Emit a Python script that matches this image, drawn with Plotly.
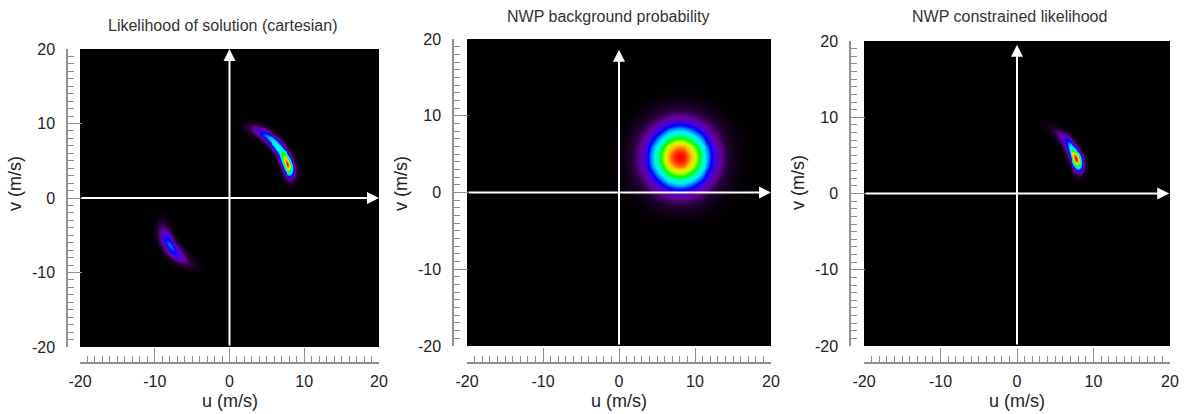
import numpy as np
import plotly.graph_objects as go

W, H = 1192, 414

# ---- chart values -------------------------------------------------------
panel_titles = ["Likelihood of solution (cartesian)",
                "NWP background probability",
                "NWP constrained likelihood"]
tick_values = [-20, -10, 0, 10, 20]
tick_labels = ["-20", "-10", "0", "10", "20"]
axis_range = [-20, 20]

# ambiguous wind solutions, built from arc-shaped components in the (u, v) plane
# [centre u, centre v, arc radius, radial sigma, peak angle (deg),
#  angular sigma clockwise, angular sigma anticlockwise,
#  anticlockwise shape exponent, level]
solution_main_body = [0.5, 2.2, 7.6, 0.5, 19.0, 10.0, 40.0, 4.0, 0.55]
solution_main_peak = [0.5, 2.2, 7.6, 0.45, 18.0, 7.0, 7.0, 2.0, 0.45]
solution_alias = [-2.2, -2.7, 6.85, 0.6, -148.0, 15.0, 18.0, 2.0, 0.38]

# NWP background: centre u, centre v, sigma (m/s)
nwp_centre_u = 8.0
nwp_centre_v = 4.6
nwp_sigma = 2.8

# ---- fields on the (u, v) grid -----------------------------------------
u = np.linspace(-20, 20, 321)
v = np.linspace(-20, 20, 321)
U, V = np.meshgrid(u, v)


def arc_likelihood(p):
    cu, cv, rad, sr, peak, s_lo, s_hi, p_hi, amp = p
    r = np.hypot(U - cu, V - cv)
    ang = np.degrees(np.arctan2(V - cv, U - cu))
    d = (ang - peak + 180.0) % 360.0 - 180.0
    along = np.where(d >= 0,
                     np.exp(-0.5 * (np.abs(d) / s_hi) ** p_hi),
                     np.exp(-0.5 * (d / s_lo) ** 2))
    return amp * np.exp(-0.5 * ((r - rad) / sr) ** 2) * along


z_solution = sum(arc_likelihood(p) for p in
                 (solution_main_body, solution_main_peak, solution_alias))
z_solution /= z_solution.max()

z_nwp = np.exp(-((U - nwp_centre_u) ** 2 + (V - nwp_centre_v) ** 2) / (2 * nwp_sigma ** 2))

z_constrained = z_solution * z_nwp
z_constrained /= z_constrained.max()

fields = [np.round(z_solution, 4), np.round(z_nwp, 4), np.round(z_constrained, 4)]

rainbow_black = [
    [0.00, "rgb(0,0,0)"],
    [0.08, "rgb(40,0,60)"],
    [0.16, "rgb(100,0,150)"],
    [0.26, "rgb(70,0,230)"],
    [0.33, "rgb(0,0,255)"],
    [0.41, "rgb(0,150,255)"],
    [0.49, "rgb(0,240,255)"],
    [0.58, "rgb(0,255,170)"],
    [0.66, "rgb(0,255,0)"],
    [0.77, "rgb(200,255,0)"],
    [0.86, "rgb(255,200,0)"],
    [0.93, "rgb(255,100,0)"],
    [1.00, "rgb(255,0,0)"],
]

# ---- layout geometry (pixels) -----------------------------------------
# plot area: left, right, top, bottom
boxes = [(80, 379, 49, 347), (467, 771, 39, 346), (864, 1170, 41, 346)]
yaxis_line_px = [67, 453, 850]
xaxis_line_px = 363
title_pos = [(222, 25), (608, 17), (1009, 17)]
vlabel_px = [15, 401, 798]
# arrow tips (data units): vertical arrow head, horizontal arrow head
arrow_tips = [(20.0, 20.0), (18.6, 20.0), (19.5, 19.9)]


def fx(px):
    return px / W


def fy(py):
    return 1 - py / H


font_family = "Liberation Sans, Arial, sans-serif"
axis_grey = "#8f8f8f"
text_col = "#222222"

fig = go.Figure()
annotations = []
layout_axes = {}

minor_vals = [t for t in range(-19, 20) if t % 10 != 0]

for i in range(3):
    n = "" if i == 0 else str(i + 1)
    xa, ya = "x" + n, "y" + n
    l, r, t, b = boxes[i]
    fig.add_trace(go.Heatmap(
        x=u, y=v, z=fields[i], xaxis=xa, yaxis=ya,
        colorscale=rainbow_black, zmin=0, zmax=1, zsmooth="best",
        showscale=False, hoverinfo="skip"))

    common = dict(
        range=axis_range, tickmode="array", tickvals=tick_values, ticktext=tick_labels,
        ticks="inside", ticklen=14, tickwidth=1.3, tickcolor=axis_grey,
        showline=True, linecolor=axis_grey, linewidth=1.5,
        showgrid=False, zeroline=False, anchor="free", automargin=False,
        tickfont=dict(family=font_family, size=16, color=text_col),
        minor=dict(tickmode="array", tickvals=minor_vals, ticks="inside",
                   ticklen=6, tickwidth=1, tickcolor=axis_grey, showgrid=False),
    )
    layout_axes["xaxis" + n] = dict(common, domain=[fx(l), fx(r)],
                                    position=fy(xaxis_line_px), side="bottom",
                                    ticklabelstandoff=4)
    layout_axes["yaxis" + n] = dict(common, domain=[fy(b), fy(t)],
                                    position=fx(yaxis_line_px[i]), side="left",
                                    ticklabelstandoff=8)

    vt, ht = arrow_tips[i]
    # axes arrows through the origin
    annotations.append(dict(xref=xa, yref=ya, axref=xa, ayref=ya,
                            x=0, y=vt, ax=0, ay=-20, text="", showarrow=True,
                            arrowhead=2, arrowsize=1.2, arrowwidth=2, arrowcolor="white"))
    annotations.append(dict(xref=xa, yref=ya, axref=xa, ayref=ya,
                            x=ht, y=0, ax=-20, ay=0, text="", showarrow=True,
                            arrowhead=2, arrowsize=1.2, arrowwidth=2, arrowcolor="white"))

    tx, ty = title_pos[i]
    annotations.append(dict(xref="paper", yref="paper", x=fx(tx), y=fy(ty),
                            text=panel_titles[i], showarrow=False,
                            xanchor="center", yanchor="middle",
                            font=dict(family=font_family, size=16, color="#333333")))
    x0 = l + (r - l) / 2
    annotations.append(dict(xref="paper", yref="paper", x=fx(x0), y=fy(401),
                            text="u (m/s)", showarrow=False,
                            xanchor="center", yanchor="middle",
                            font=dict(family=font_family, size=18, color=text_col)))
    annotations.append(dict(xref="paper", yref="paper", x=fx(vlabel_px[i]), y=fy(183),
                            text="v (m/s)", showarrow=False, textangle=-90,
                            xanchor="center", yanchor="middle",
                            font=dict(family=font_family, size=18, color=text_col)))

fig.update_layout(
    width=W, height=H, margin=dict(l=0, r=0, t=0, b=0, autoexpand=False),
    paper_bgcolor="white", plot_bgcolor="black",
    showlegend=False, annotations=annotations, **layout_axes)

fig.write_html("out.html")
